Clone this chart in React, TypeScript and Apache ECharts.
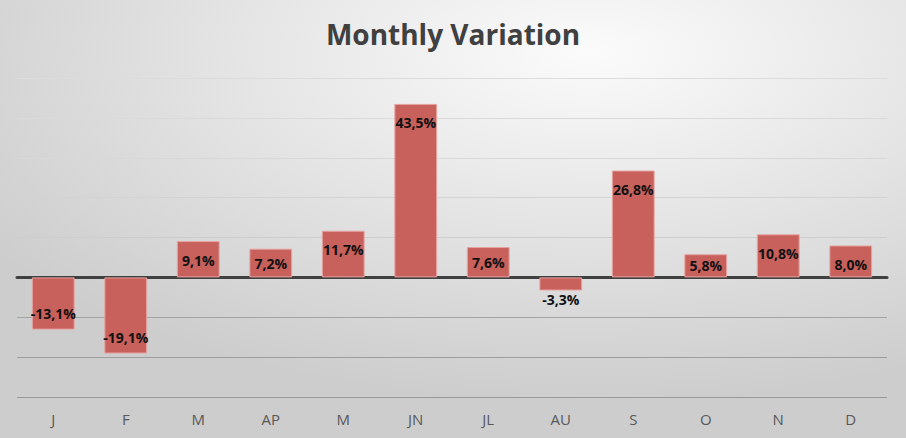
import React, { useEffect, useRef } from "react";
import * as echarts from "echarts";

const categories = ["J", "F", "M", "AP", "M", "JN", "JL", "AU", "S", "O", "N", "D"];
const variation = [-13.1, -19.1, 9.1, 7.2, 11.7, 43.5, 7.6, -3.3, 26.8, 5.8, 10.8, 8.0];
const axisMin = -30;
const axisMax = 50;
const axisStep = 10;

const fmt = (v: number) => v.toFixed(1).replace(".", ",") + "%";

export default function App() {
  const ref = useRef<HTMLDivElement>(null);
  useEffect(() => {
    if (!ref.current) return;
    const chart = echarts.init(ref.current, null, { renderer: "svg" });
    const data = variation.map((v) => {
      let label: any;
      if (v >= 0) {
        label = v < 8 ? { position: "inside" } : { position: "insideTop", distance: 12 };
      } else {
        label = v > -5 ? { position: "bottom", distance: 2 } : { position: "insideBottom", distance: 9 };
      }
      return { value: v, label };
    });
    chart.setOption({
      animation: false,
      backgroundColor: {
        type: "radial",
        x: 0.65,
        y: 0.12,
        r: 0.8,
        colorStops: [
          { offset: 0, color: "#fbfbfb" },
          { offset: 1, color: "#cdcdcd" },
        ],
      },
      title: {
        text: "Monthly Variation",
        left: "center",
        top: 15,
        textStyle: {
          fontFamily: "Open Sans",
          fontWeight: "bold",
          fontSize: 28,
          color: "#404040",
        },
      },
      grid: { left: 17, right: 19, top: 78, bottom: 41, containLabel: false },
      xAxis: {
        type: "category",
        data: categories,
        axisLine: { show: true, onZero: true, lineStyle: { color: "#404040", width: 3 } },
        axisTick: { show: false },
        axisLabel: {
          show: true,
          fontFamily: "Open Sans",
          fontSize: 15,
          color: "#595959",
          margin: 14,
        },
        position: "bottom",
      },
      yAxis: {
        type: "value",
        min: axisMin,
        max: axisMax,
        interval: axisStep,
        axisLabel: { show: false },
        axisLine: { show: false },
        axisTick: { show: false },
        splitLine: {
          show: true,
          lineStyle: {
            width: 1,
            color: ["#9a9a9a", "#9e9e9e", "#a4a4a4", "#404040", "#cdcdcd", "#d3d3d3", "#d8d8d8", "#dadada", "#dcdcdc"],
          },
        },
      },
      series: [
        {
          type: "bar",
          data,
          barWidth: "59%",
          itemStyle: { color: "#c8605c", borderColor: "#e6a3a0", borderWidth: 1 },
          label: {
            show: true,
            formatter: (p: any) => fmt(p.value),
            fontFamily: "Open Sans",
            fontWeight: "bold",
            fontSize: 14,
            color: "#111111",
          },
        },
      ],
    });
    return () => chart.dispose();
  }, []);
  return <div ref={ref} style={{ width: 906, height: 438, position: "absolute", left: 0, top: 0 }} />;
}
